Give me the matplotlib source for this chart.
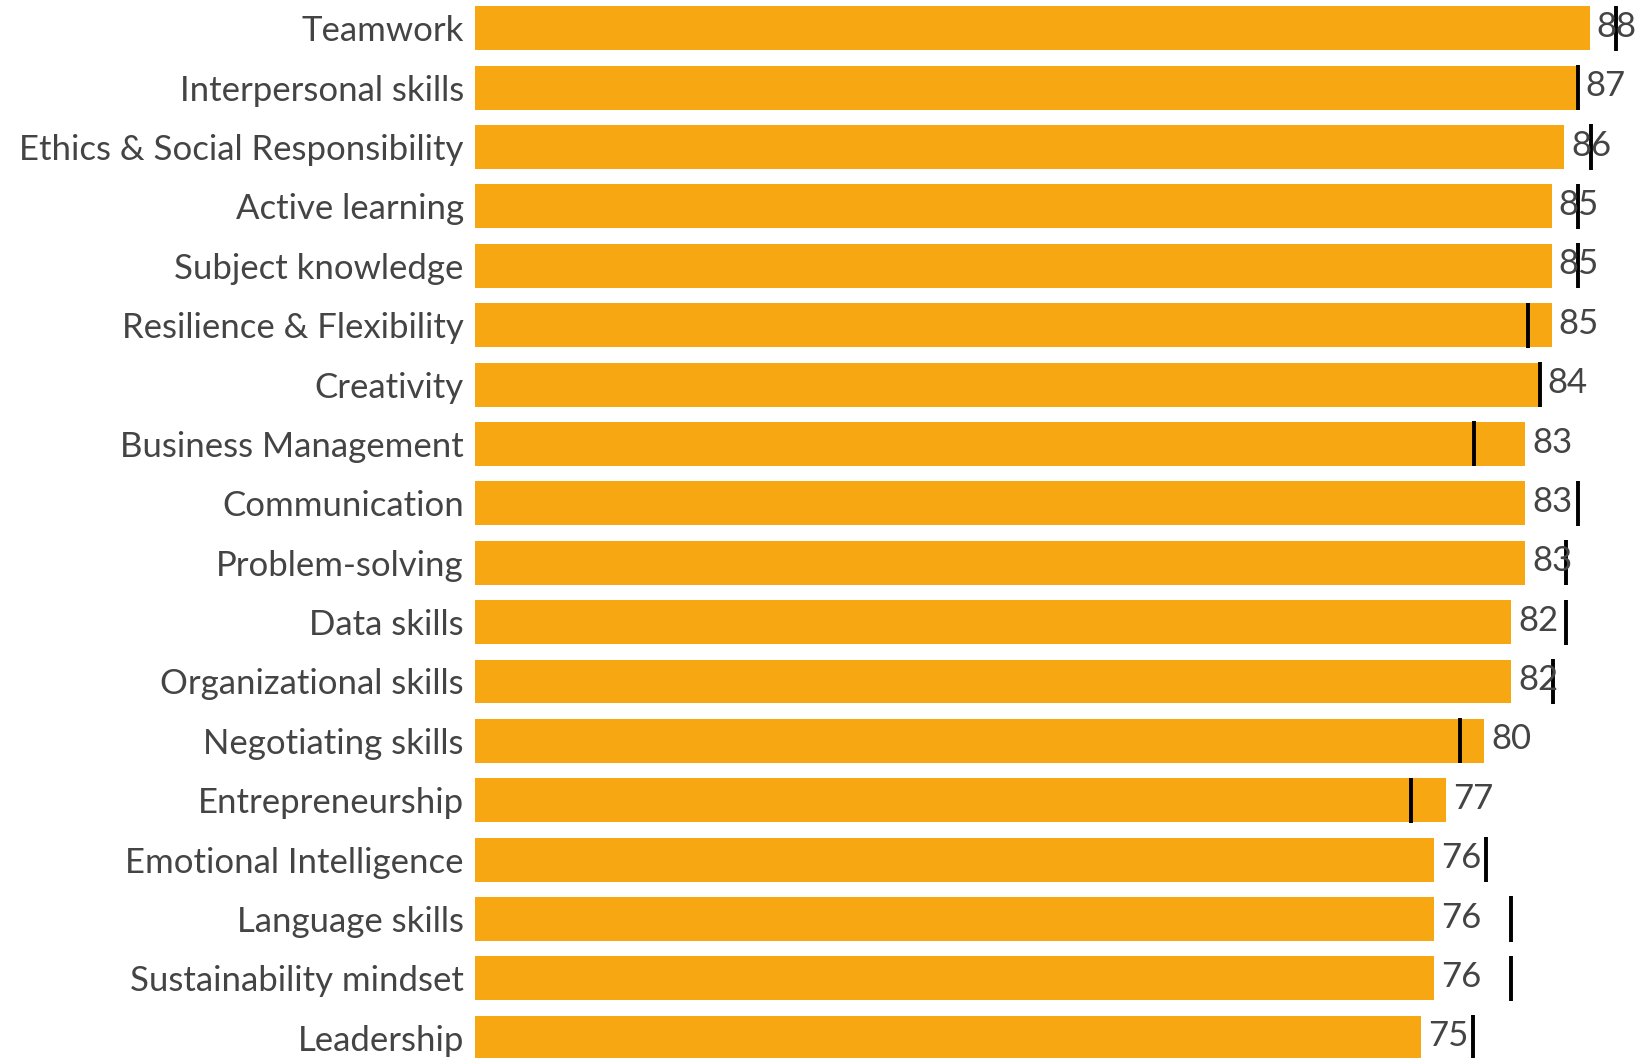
import numpy as np
import matplotlib
matplotlib.use('Agg')
import matplotlib.pyplot as plt

# competences et scores (barres) + valeur de reference (trait noir)
skills = ['Teamwork', 'Interpersonal skills', 'Ethics & Social Responsibility',
          'Active learning', 'Subject knowledge', 'Resilience & Flexibility',
          'Creativity', 'Business Management', 'Communication', 'Problem-solving',
          'Data skills', 'Organizational skills', 'Negotiating skills',
          'Entrepreneurship', 'Emotional Intelligence', 'Language skills',
          'Sustainability mindset', 'Leadership']
scores = [88.0, 87.1, 86.0, 85.0, 85.0, 85.0, 84.1, 82.9, 82.9, 82.9,
          81.8, 81.8, 79.7, 76.7, 75.7, 75.7, 75.7, 74.7]
reference = [90.1, 87.1, 88.1, 87.1, 87.1, 83.1, 84.1, 78.9, 87.1, 86.1,
             86.1, 85.1, 77.8, 73.9, 79.8, 81.8, 81.8, 78.8]

plt.rcParams['font.family'] = ['Lato', 'DejaVu Sans']

fig = plt.figure(figsize=(16.39, 10.58), dpi=100)
ax = fig.add_axes([0.2898, 0, 1 - 0.2898, 1])

y = np.arange(len(skills))
ax.barh(y, scores, height=0.74, color='#F6A712')
ax.vlines(reference, y - 0.38, y + 0.38, color='black', linewidth=2.8, zorder=3)

for yi, s in zip(y, scores):
    ax.annotate('%d' % round(s), (s, yi), xytext=(5, 1), textcoords='offset points',
                va='center', ha='left', fontsize=25, color='#444444')

ax.set_xlim(0, 91.9)
ax.set_ylim(17.34, -0.475)
ax.set_yticks(y)
ax.set_yticklabels(skills, fontsize=25, color='#444444')
ax.tick_params(axis='y', length=0, pad=8)
ax.set_xticks([])
for sp in ax.spines.values():
    sp.set_visible(False)

plt.savefig('out.png', dpi=100)
plt.close()
